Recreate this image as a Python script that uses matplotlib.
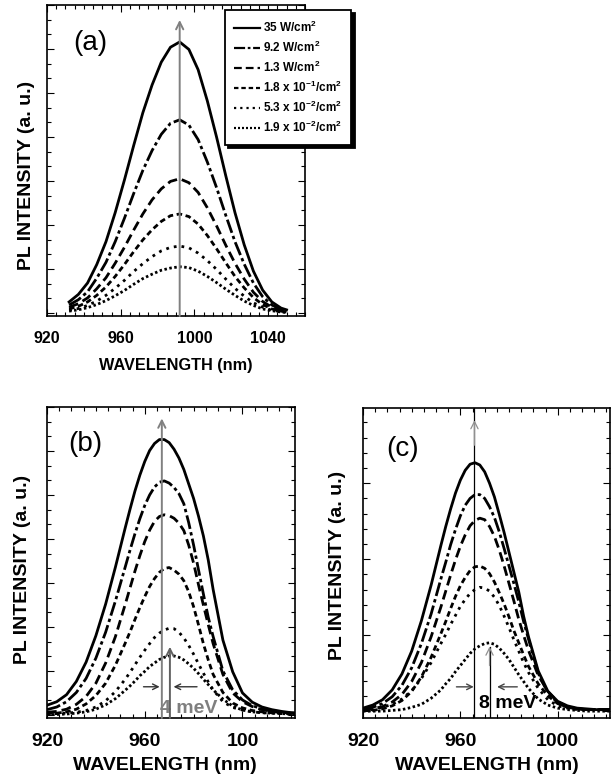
import matplotlib.pyplot as plt
from matplotlib.ticker import MultipleLocator

plt.rcParams['font.family'] = ['Liberation Sans', 'DejaVu Sans']
plt.rcParams['font.weight'] = 'bold'
plt.rcParams['axes.labelweight'] = 'bold'
plt.rcParams['mathtext.default'] = 'regular'

# ---- data (PL intensity, arbitrary units) ----
labels = ['35 W/cm$^2$', '9.2 W/cm$^2$', '1.3 W/cm$^2$',
          '1.8 x 10$^{-1}$/cm$^2$', '5.3 x 10$^{-2}$/cm$^2$', '1.9 x 10$^{-2}$/cm$^2$']

# panel (a)
wl_a = [932, 937, 942, 947, 952, 957, 962, 967, 972, 977, 982, 987, 992,
        997, 1002, 1007, 1012, 1017, 1022, 1027, 1032, 1037, 1042, 1047, 1050]
a_35 = [0.25, 0.42, 0.68, 1.10, 1.62, 2.28, 3.02, 3.80, 4.55, 5.18, 5.70, 6.04, 6.16,
        5.99, 5.53, 4.82, 4.00, 3.12, 2.28, 1.55, 0.95, 0.52, 0.25, 0.11, 0.07]
a_9p2 = [0.18, 0.30, 0.48, 0.79, 1.15, 1.62, 2.15, 2.71, 3.24, 3.69, 4.06, 4.31, 4.39,
         4.27, 3.94, 3.43, 2.85, 2.22, 1.62, 1.11, 0.68, 0.37, 0.18, 0.08, 0.05]
a_1p3 = [0.13, 0.21, 0.34, 0.55, 0.80, 1.13, 1.49, 1.88, 2.25, 2.57, 2.82, 2.99, 3.05,
         2.96, 2.74, 2.39, 1.98, 1.54, 1.13, 0.77, 0.47, 0.26, 0.13, 0.06, 0.03]
a_1p8 = [0.09, 0.15, 0.25, 0.40, 0.59, 0.83, 1.10, 1.39, 1.66, 1.89, 2.08, 2.21, 2.25,
         2.19, 2.02, 1.76, 1.46, 1.14, 0.83, 0.57, 0.35, 0.19, 0.09, 0.04, 0.02]
a_5p3 = [0.06, 0.10, 0.17, 0.27, 0.40, 0.56, 0.74, 0.94, 1.12, 1.28, 1.41, 1.49, 1.52,
         1.48, 1.36, 1.19, 0.99, 0.77, 0.56, 0.38, 0.23, 0.13, 0.06, 0.03, 0.02]
a_1p9 = [0.04, 0.07, 0.12, 0.19, 0.28, 0.39, 0.51, 0.65, 0.78, 0.88, 0.97, 1.02, 1.05,
         1.03, 0.95, 0.83, 0.69, 0.54, 0.40, 0.27, 0.17, 0.09, 0.05, 0.02, 0.01]

# panels (b) and (c) share the wavelength grid (finer around the peak)
wl_bc = [920, 924, 928, 932, 936, 940, 944, 948,
         952, 954, 956, 958, 960, 962, 964, 966, 968, 970, 972, 974, 976, 978,
         980, 982, 984, 986, 988,
         992, 996, 1000, 1004, 1008, 1012, 1016, 1020, 1024]
b_35 = [0.22, 0.30, 0.46, 0.76, 1.20, 1.80, 2.52, 3.36,
        4.25, 4.68, 5.09, 5.45, 5.76, 6.01, 6.17, 6.26, 6.26, 6.19, 6.04, 5.84, 5.58, 5.25,
        4.92, 4.52, 4.07, 3.52, 2.85,
        1.70, 0.98, 0.50, 0.29, 0.18, 0.12, 0.08, 0.05, 0.04]
b_9p2 = [0.12, 0.18, 0.30, 0.51, 0.83, 1.29, 1.88, 2.59,
         3.36, 3.75, 4.12, 4.46, 4.76, 5.00, 5.18, 5.29, 5.32, 5.27, 5.17, 5.03, 4.80, 4.37,
         3.86, 3.30, 2.75, 2.22, 1.78,
         1.00, 0.57, 0.34, 0.21, 0.14, 0.09, 0.06, 0.04, 0.03]
b_1p3 = [0.06, 0.08, 0.13, 0.24, 0.42, 0.72, 1.18, 1.78,
         2.51, 2.89, 3.27, 3.62, 3.94, 4.20, 4.40, 4.51, 4.55, 4.53, 4.47, 4.36, 4.19, 3.86,
         3.45, 2.96, 2.50, 2.05, 1.62,
         0.92, 0.50, 0.30, 0.19, 0.12, 0.08, 0.05, 0.04, 0.03]
b_1p8 = [0.03, 0.04, 0.07, 0.13, 0.25, 0.44, 0.72, 1.13,
         1.63, 1.89, 2.17, 2.44, 2.69, 2.92, 3.10, 3.24, 3.33, 3.35, 3.29, 3.20, 3.05, 2.80,
         2.46, 2.05, 1.62, 1.25, 0.92,
         0.51, 0.27, 0.16, 0.10, 0.07, 0.05, 0.04, 0.03, 0.02]
b_5p3 = [0.02, 0.03, 0.04, 0.06, 0.10, 0.18, 0.32, 0.53,
         0.81, 0.97, 1.14, 1.31, 1.47, 1.62, 1.76, 1.86, 1.93, 1.97, 1.96, 1.88, 1.75, 1.58,
         1.38, 1.16, 0.95, 0.75, 0.57,
         0.30, 0.17, 0.11, 0.07, 0.05, 0.04, 0.03, 0.02, 0.02]
b_1p9 = [0.01, 0.01, 0.02, 0.04, 0.07, 0.13, 0.23, 0.37,
         0.56, 0.66, 0.77, 0.89, 0.99, 1.10, 1.18, 1.26, 1.31, 1.34, 1.34, 1.31, 1.25, 1.16,
         1.06, 0.94, 0.81, 0.69, 0.57,
         0.36, 0.20, 0.11, 0.07, 0.05, 0.04, 0.03, 0.02, 0.02]

c_35 = [0.04, 0.08, 0.15, 0.28, 0.49, 0.79, 1.19, 1.66,
        2.18, 2.43, 2.66, 2.87, 3.04, 3.17, 3.25, 3.27, 3.24, 3.15, 3.00, 2.82, 2.59, 2.35,
        2.09, 1.83, 1.57, 1.25, 0.98,
        0.53, 0.26, 0.13, 0.07, 0.04, 0.03, 0.02, 0.02, 0.02]
c_9p2 = [0.02, 0.05, 0.10, 0.19, 0.34, 0.57, 0.89, 1.28,
         1.74, 1.96, 2.19, 2.39, 2.57, 2.71, 2.80, 2.85, 2.85, 2.80, 2.69, 2.55, 2.36, 2.14,
         1.91, 1.68, 1.44, 1.18, 0.95,
         0.50, 0.24, 0.11, 0.05, 0.03, 0.02, 0.02, 0.02, 0.02]
c_1p3 = [0.01, 0.03, 0.06, 0.12, 0.22, 0.39, 0.64, 0.98,
         1.37, 1.58, 1.79, 1.99, 2.17, 2.32, 2.44, 2.51, 2.54, 2.52, 2.43, 2.30, 2.12, 1.91,
         1.68, 1.45, 1.21, 1.00, 0.80,
         0.47, 0.26, 0.12, 0.06, 0.03, 0.02, 0.02, 0.02, 0.02]
c_1p8 = [0.01, 0.01, 0.03, 0.07, 0.14, 0.26, 0.45, 0.71,
         1.02, 1.18, 1.35, 1.51, 1.65, 1.76, 1.85, 1.90, 1.91, 1.88, 1.81, 1.70, 1.56, 1.41,
         1.24, 1.06, 0.90, 0.74, 0.59,
         0.36, 0.20, 0.10, 0.05, 0.03, 0.02, 0.02, 0.02, 0.02]
c_5p3 = [0.01, 0.02, 0.05, 0.09, 0.16, 0.27, 0.43, 0.64,
         0.89, 1.01, 1.14, 1.26, 1.38, 1.47, 1.55, 1.60, 1.63, 1.62, 1.58, 1.50, 1.39, 1.25,
         1.10, 0.94, 0.79, 0.64, 0.51,
         0.30, 0.15, 0.07, 0.04, 0.02, 0.02, 0.02, 0.02, 0.02]
c_1p9 = [0.00, 0.00, 0.00, 0.01, 0.02, 0.05, 0.09, 0.17,
         0.28, 0.36, 0.43, 0.52, 0.60, 0.68, 0.76, 0.82, 0.86, 0.89, 0.90, 0.88, 0.83, 0.76,
         0.68, 0.58, 0.48, 0.39, 0.30,
         0.16, 0.08, 0.04, 0.02, 0.01, 0.00, 0.00, 0.00, 0.00]

# peak markers (nm)
peak_a = 992
peak_b_hi, peak_b_lo = 967, 970.3
peak_c_hi, peak_c_lo = 965.8, 972

styles = ['-', (0, (5, 1.2, 1.2, 1.2)), (0, (3.5, 1.8)), (0, (2, 1.3)),
          (0, (1, 1.8)), (0, (0.9, 0.9))]
LW = 2.0


def style_axes(ax, xmax, ymin, ymax, yminor, fs, pad):
    ax.set_xlim(920, xmax)
    ax.set_ylim(ymin, ymax)
    ax.xaxis.set_major_locator(MultipleLocator(40))
    ax.xaxis.set_minor_locator(MultipleLocator(5))
    ax.yaxis.set_major_locator(MultipleLocator(1))
    ax.yaxis.set_minor_locator(MultipleLocator(yminor))
    ax.tick_params(which='both', direction='in', top=True, right=True,
                   width=0.8, labelleft=False)
    ax.tick_params(which='major', length=5, labelsize=fs, pad=pad)
    ax.tick_params(which='minor', length=3)
    for s in ax.spines.values():
        s.set_linewidth(1.2)


def up_arrow(ax, x, y0, y1, color, lw):
    ax.annotate('', xy=(x, y1), xytext=(x, y0), zorder=6,
                arrowprops=dict(arrowstyle='->', color=color, lw=lw,
                                shrinkA=0, shrinkB=0, mutation_scale=13))


def side_arrow(ax, x0, x1, y, color):
    ax.annotate('', xy=(x1, y), xytext=(x0, y),
                arrowprops=dict(arrowstyle='->', color=color, lw=1.0,
                                shrinkA=0, shrinkB=0, mutation_scale=10))


fig = plt.figure(figsize=(6.16, 7.75), dpi=100)
ax_a = fig.add_axes([47/616, 1 - 316/775, 258/616, 311/775])
ax_b = fig.add_axes([47/616, 1 - 718/775, 248/616, 311/775])
ax_c = fig.add_axes([363/616, 1 - 718/775, 247/616, 310/775])

# ---- (a) ----
lines = []
for ys, ls in zip([a_35, a_9p2, a_1p3, a_1p8, a_5p3, a_1p9], styles):
    ln, = ax_a.plot(wl_a, ys, color='black', lw=LW, linestyle=ls)
    lines.append(ln)
style_axes(ax_a, 1060, -0.07, 7.0, 1/3, 11.5, 11)
up_arrow(ax_a, peak_a, -0.07, 6.66, '#808080', 1.4)
ax_a.set_xlabel('WAVELENGTH (nm)', fontsize=11.7, va='center')
ax_a.xaxis.set_label_coords(0.5, -0.160)
ax_a.set_ylabel('PL INTENSITY (a. u.)', fontsize=14, va='center')
ax_a.yaxis.set_label_coords(-0.079, 0.453)
ax_a.text(0.10, 0.878, '(a)', transform=ax_a.transAxes, fontsize=20,
          fontweight='normal', ha='left', va='center')
leg = ax_a.legend(lines, labels, loc='upper left',
                  bbox_to_anchor=(225/616, 1 - 10/775), bbox_transform=fig.transFigure,
                  fancybox=False, shadow={'color': 'black', 'alpha': 1, 'ox': 2.5, 'oy': -2.5},
                  edgecolor='black', framealpha=1, fontsize=8.5, handlelength=2.2,
                  handletextpad=0.2, labelspacing=0.42, borderpad=0.8, borderaxespad=0)
leg.get_frame().set_linewidth(1.3)
for h in leg.get_lines():
    h.set_linewidth(1.6)

# ---- (b) ----
for ys, ls in zip([b_35, b_9p2, b_1p3, b_1p8, b_5p3, b_1p9], styles):
    ax_b.plot(wl_bc, ys, color='black', lw=LW, linestyle=ls)
style_axes(ax_b, 1021.5, -0.07, 7.0, 1/3, 14, 11)
ax_b.set_xticks([920, 960, 1000], ['920', '960', '100'])
up_arrow(ax_b, peak_b_hi, -0.07, 6.74, '#808080', 1.4)
up_arrow(ax_b, peak_b_lo, -0.07, 1.55, '#606060', 1.4)
side_arrow(ax_b, 959.5, 966.1, 0.64, '#333333')
side_arrow(ax_b, 981.4, 971.8, 0.64, '#333333')
ax_b.text(966.4, 0.15, '4 meV', color='#7f7f7f', fontsize=14, ha='left', va='center')
ax_b.set_xlabel('WAVELENGTH (nm)', fontsize=14, va='center')
ax_b.xaxis.set_label_coords(0.474, -0.152)
ax_b.set_ylabel('PL INTENSITY (a. u.)', fontsize=14, va='center')
ax_b.yaxis.set_label_coords(-0.100, 0.479)
ax_b.text(0.085, 0.881, '(b)', transform=ax_b.transAxes, fontsize=20,
          fontweight='normal', ha='left', va='center')

# ---- (c) ----
for ys, ls in zip([c_35, c_9p2, c_1p3, c_1p8, c_5p3, c_1p9], styles):
    ax_c.plot(wl_bc, ys, color='black', lw=LW, linestyle=ls)
style_axes(ax_c, 1021.5, -0.09, 3.99, 0.2, 14, 11)
ax_c.axvline(peak_c_hi, color='black', lw=0.9, zorder=5)
up_arrow(ax_c, peak_c_hi, 3.5, 3.83, '#909090', 0.9)
ax_c.plot([peak_c_lo, peak_c_lo], [-0.09, 0.85], color='black', lw=0.9, zorder=5)
up_arrow(ax_c, peak_c_lo, 0.6, 0.85, '#909090', 0.9)
side_arrow(ax_c, 958.4, 965.5, 0.32, '#444444')
side_arrow(ax_c, 983.4, 975.1, 0.32, '#444444')
ax_c.text(967.5, 0.10, '8 meV', color='black', fontsize=14, ha='left', va='center')
ax_c.set_xlabel('WAVELENGTH (nm)', fontsize=14, va='center')
ax_c.xaxis.set_label_coords(0.5, -0.152)
ax_c.set_ylabel('PL INTENSITY (a. u.)', fontsize=14, va='center')
ax_c.yaxis.set_label_coords(-0.103, 0.492)
ax_c.text(0.096, 0.868, '(c)', transform=ax_c.transAxes, fontsize=20,
          fontweight='normal', ha='left', va='center')

fig.savefig('out.png', dpi=100)
